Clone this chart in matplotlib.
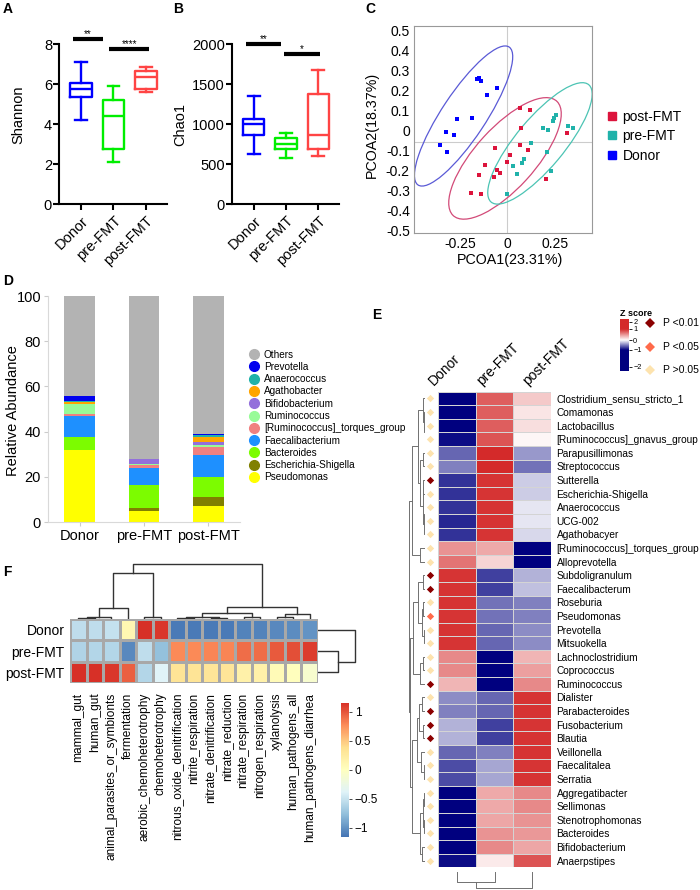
import numpy as np
import matplotlib
matplotlib.use('Agg')
import matplotlib.pyplot as plt
from matplotlib.patches import Ellipse
from matplotlib.colors import LinearSegmentedColormap
from matplotlib.lines import Line2D

plt.rcParams['font.family'] = ['Liberation Sans', 'DejaVu Sans']
plt.rcParams['axes.unicode_minus'] = False

# ---------------- data ----------------
groups = ['Donor', 'pre-FMT', 'post-FMT']
group_colors = ['#0000ff', '#00ee00', '#ff4444']

# whisker low, q1, median, q3, whisker high
shannon_box = [[4.2, 5.37, 5.73, 6.07, 7.12],
               [2.1, 2.75, 4.42, 5.2, 5.9],
               [5.58, 5.77, 6.33, 6.67, 6.87]]
chao1_box = [[620, 862, 996, 1058, 1354],
             [571, 687, 754, 821, 891],
             [600, 687, 862, 1375, 1675]]
# (x from, x to, y, stars)
shannon_sig = [(0.75, 1.69, 8.23, '**'), (1.87, 3.1, 7.77, '****')]
chao1_sig = [(0.75, 1.84, 2000, '**'), (1.94, 3.06, 1875, '*')]

# PCoA
donor_x = [-0.161, -0.150, -0.140, -0.056, -0.105, -0.184, -0.263, -0.325, -0.279, -0.354, -0.316]
donor_y = [0.255, 0.262, 0.247, 0.210, 0.173, 0.058, 0.053, -0.010, -0.023, -0.075, -0.108]
post_x = [0.068, 0.119, 0.070, 0.312, 0.067, -0.067, 0.107, 0.016, 0.0, -0.119, -0.056,
          -0.040, -0.147, -0.068, 0.204, -0.191, -0.139]
post_y = [0.112, 0.100, 0.008, -0.015, -0.077, -0.092, -0.102, -0.127, -0.160, -0.173, -0.198,
          -0.217, -0.223, -0.235, -0.247, -0.317, -0.322]
pre_x = [0.256, 0.247, 0.242, 0.189, 0.212, 0.321, 0.344, 0.123, 0.211, 0.088, 0.077,
         0.032, 0.049, 0.228, 0.0]
pre_y = [0.077, 0.058, 0.045, 0.010, 0.002, 0.020, 0.008, -0.067, -0.110, -0.143, -0.165,
         -0.180, -0.220, -0.203, -0.318]
ell_cx = [-0.23, -0.012, 0.172]          # Donor, post-FMT, pre-FMT
ell_cy = [0.07, -0.142, -0.067]
ell_major = [0.84, 0.79, 0.78]
ell_minor = [0.23, 0.31, 0.25]
ell_angle = [55, 46, 48.5]
ell_colors = ['#5a5ad6', '#d24a78', '#4cc4b4']

# stacked bars (bottom to top)
taxa = ['Pseudomonas', 'Escherichia-Shigella', 'Bacteroides', 'Faecalibacterium',
        '[Ruminococcus]_torques_group', 'Ruminococcus', 'Bifidobacterium', 'Agathobacter',
        'Anaerococcus', 'Prevotella', 'Others']
taxa_colors = ['#ffff00', '#808000', '#7cfc00', '#1e90ff', '#f08080', '#98fb98',
               '#9370db', '#ffa500', '#20b2aa', '#0000ee', '#b3b3b3']
abund_donor = [31.7, 0.3, 5.6, 9.5, 0.8, 4.2, 0.3, 0.8, 0.2, 2.5, 44.1]
abund_pre = [5.0, 1.0, 10.5, 7.5, 1.2, 0.3, 2.2, 0.1, 0.1, 0.1, 72.0]
abund_post = [7.2, 3.7, 9.0, 9.7, 3.4, 1.0, 1.5, 2.2, 0.6, 0.6, 61.1]

# genus heatmap (z score Donor, pre-FMT, post-FMT)
genera = ['Clostridium_sensu_stricto_1', 'Comamonas', 'Lactobacillus', '[Ruminococcus]_gnavus_group',
          'Parapusillimonas', 'Streptococcus', 'Sutterella', 'Escherichia-Shigella', 'Anaerococcus',
          'UCG-002', 'Agathobacyer', '[Ruminococcus]_torques_group', 'Alloprevotella',
          'Subdoligranulum', 'Faecalibacterum', 'Roseburia', 'Pseudomonas', 'Prevotella',
          'Mitsuokella', 'Lachnoclostridium', 'Coprococcus', 'Ruminococcus', 'Dialister',
          'Parabacteroides', 'Fusobacterium', 'Blautia', 'Veillonella', 'Faecalitalea', 'Serratia',
          'Aggregatibacter', 'Sellimonas', 'Stenotrophomonas', 'Bacteroides', 'Bifidobacterium',
          'Anaerpstipes']
z_donor = [-1, -1, -1, -0.95, -0.6, -0.5, -0.8, -0.8, -0.8, -0.85, -0.8, 0.5, 0.65,
           0.95, 0.95, 0.95, 0.95, 0.95, 0.95, 0.55, 0.55, 0.35, -0.45, -0.5, -0.3, -0.3,
           -0.6, -0.7, -0.7, -1, -1, -1, -1, -1, -0.95]
z_pre = [0.75, 0.75, 0.75, 0.8, 1, 1, 0.95, 0.95, 0.95, 0.95, 0.95, 0.4, 0.2,
         -0.75, -0.75, -0.55, -0.55, -0.6, -0.6, -1, -1, -1, -0.6, -0.6, -0.75, -0.75,
         -0.5, -0.35, -0.35, 0.4, 0.4, 0.42, 0.5, 0.55, 0.1]
z_post = [0.25, 0.12, 0.15, 0.04, -0.4, -0.55, -0.2, -0.2, -0.1, -0.1, -0.15, -1, -1,
          -0.3, -0.25, -0.5, -0.5, -0.45, -0.45, 0.35, 0.45, 0.55, 0.95, 0.95, 0.95, 0.95,
          0.95, 0.95, 0.95, 0.55, 0.55, 0.5, 0.48, 0.42, 0.8]
# 2: P<0.01, 1: P<0.05, 0: P>0.05
p_level = [0, 0, 0, 0, 0, 0, 2, 0, 0, 0, 0, 0, 0, 2, 2, 0, 1, 0, 0, 0, 0, 2, 0, 2, 2, 2,
           0, 0, 0, 0, 0, 0, 0, 0, 0]
p_labels = ['P >0.05', 'P <0.05', 'P <0.01']
p_colors = ['#fde3ae', '#ff6a4a', '#8b0000']
row_tree = [[[[0, [1, [2, 3, 0.02], 0.04], 0.1],
              [[4, 5, 0.12], [[6, 7, 0.1], [[8, 9, 0.03], 10, 0.06], 0.15], 0.3], 0.45],
             [11, 12, 0.3], 0.85],
            [[[[13, 14, 0.1], [[15, 16, 0.12], [17, 18, 0.08], 0.2], 0.45],
              [[19, 20, 0.1], 21, 0.3], 0.75],
             [[[[22, 23, 0.2], [24, 25, 0.1], 0.35], [26, [27, 28, 0.05], 0.25], 0.5],
              [[[29, 30, 0.05], [31, 32, 0.05], 0.1], [33, 34, 0.2], 0.3], 0.8], 0.95], 1.0]
col_tree_e = [[0, 1, 0.6], 2, 1.0]

# FAPROTAX heatmap
functions = ['mammal_gut', 'human_gut', 'animal_parasites_or_symbionts', 'fermentation',
             'aerobic_chemoheterotrophy', 'chemoheterotrophy', 'nitrous_oxide_denitrification',
             'nitrite_respiration', 'nitrate_denitrification', 'nitrate_reduction',
             'nitrate_respiration', 'nitrogen_respiration', 'xylanolysis',
             'human_pathogens_all', 'human_pathogens_diarrhea']
f_donor = [-0.55, -0.55, -0.52, 0.1, 1.15, 1.12, -1.12, -1.12, -1.12, -1.12, -1.08, -1.08, -1.05, -1.03, -1.0]
f_pre = [-0.62, -0.6, -0.6, -1.05, -0.55, -0.75, 0.78, 0.78, 0.8, 0.8, 0.9, 0.9, 0.98, 1.02, 1.1]
f_post = [1.15, 1.15, 1.12, 0.95, -0.6, -0.38, 0.34, 0.34, 0.32, 0.32, 0.18, 0.18, 0.07, 0.01, -0.1]
f_col_tree = [[[[[0, 1, 0.02], 2, 0.04], 3, 0.2], [4, 5, 0.04], 0.84],
              [[[[6, 7, 0.01], [8, 9, 0.01], 0.03], [10, 11, 0.04], 0.11],
               [[12, 13, 0.03], 14, 0.1], 0.22], 1.0]
f_row_tree = [0, [1, 2, 0.53], 1.0]

# ---------------- layout helpers ----------------
W, H = 700, 890
fig = plt.figure(figsize=(7, 8.9), dpi=100)


def add_ax(l, t, r, b):
    return fig.add_axes([l / W, 1 - b / H, (r - l) / W, (b - t) / H])


def panel_label(txt, x, y):
    fig.text(x / W, 1 - y / H, txt, fontsize=10, fontweight='bold', ha='left', va='center')


def draw_tree(ax, node, height_on_x, **kw):
    if isinstance(node, int):
        return node + 0.5, 0.0
    left, right, h = node
    p1, h1 = draw_tree(ax, left, height_on_x, **kw)
    p2, h2 = draw_tree(ax, right, height_on_x, **kw)
    ps, hs = [p1, p1, p2, p2], [h1, h, h, h2]
    if height_on_x:
        ax.plot(hs, ps, **kw)
    else:
        ax.plot(ps, hs, **kw)
    return (p1 + p2) / 2, h


# ---------------- A / B box plots ----------------
def box_panel(ax, box, sig, ylim, yticks, ylabel, lab_x, lab_y):
    stats = [dict(whislo=s[0], q1=s[1], med=s[2], q3=s[3], whishi=s[4], fliers=[]) for s in box]
    bp = ax.bxp(stats, positions=[1, 2, 3], widths=0.66, capwidths=0.36, showfliers=False)
    for i, c in enumerate(group_colors):
        bp['boxes'][i].set(color=c, linewidth=1.7)
        bp['medians'][i].set(color=c, linewidth=1.7)
        for k in (2 * i, 2 * i + 1):
            bp['whiskers'][k].set(color=c, linewidth=1.7)
            bp['caps'][k].set(color=c, linewidth=1.7)
    for x0, x1, y, s in sig:
        ax.plot([x0, x1], [y, y], color='black', lw=3, clip_on=False, solid_capstyle='butt')
        ax.text((x0 + x1) / 2, y, s, ha='center', va='bottom', fontsize=7, clip_on=False)
    ax.set_xlim(0.32, 3.65)
    ax.set_ylim(*ylim)
    ax.set_yticks(yticks)
    ax.set_xticks([1, 2, 3])
    ax.set_xticklabels(groups, rotation=45, ha='right', rotation_mode='anchor', fontsize=10.5)
    ax.tick_params(axis='y', labelsize=10.5, width=1.5, length=4, pad=1)
    ax.tick_params(axis='x', width=1.5, length=4, pad=3)
    for sp in ('top', 'right'):
        ax.spines[sp].set_visible(False)
    for sp in ('left', 'bottom'):
        ax.spines[sp].set_linewidth(1.5)
    ax.set_ylabel(ylabel, fontsize=10.5)
    ax.yaxis.set_label_coords(lab_x, lab_y)


axA = add_ax(59, 44, 167, 204)
box_panel(axA, shannon_box, shannon_sig, (0, 8), [0, 2, 4, 6, 8], 'Shannon', -0.31, 0.56)
axB = add_ax(232, 44, 339, 204)
box_panel(axB, chao1_box, chao1_sig, (0, 2000), [0, 500, 1000, 1500, 2000], 'Chao1', -0.42, 0.5)

# ---------------- C PCoA ----------------
axC = add_ax(414, 26, 592, 233)
axC.axhline(-0.058, color='#cccccc', lw=0.8, zorder=0)
axC.axvline(0, color='#cccccc', lw=0.8, zorder=0)
for cx, cy, mj, mn, ang, ec in zip(ell_cx, ell_cy, ell_major, ell_minor, ell_angle, ell_colors):
    axC.add_patch(Ellipse((cx, cy), mj, mn, angle=ang, fill=False, ec=ec, lw=0.9))
axC.scatter(post_x, post_y, marker='s', s=9, color='#dc143c', lw=0, label='post-FMT')
axC.scatter(pre_x, pre_y, marker='s', s=9, color='#20b2aa', lw=0, label='pre-FMT')
axC.scatter(donor_x, donor_y, marker='s', s=9, color='#0000ff', lw=0, label='Donor')
axC.set_xlim(-0.491, 0.446)
axC.set_ylim(-0.515, 0.52)
ct = [0.5, 0.4, 0.3, 0.2, 0.1, 0, -0.1, -0.2, -0.3, -0.4, -0.5]
axC.set_yticks(ct)
axC.set_yticklabels(['0.5', '0.4', '0.3', '0.2', '0.1', '0', '-0.1', '-0.2', '-0.3', '-0.4', '-0.5'])
axC.set_xticks([-0.25, 0, 0.25])
axC.set_xticklabels(['-0.25', '0', '0.25'])
axC.tick_params(labelsize=10, length=0, pad=3)
for sp in axC.spines.values():
    sp.set_color('#999999')
    sp.set_linewidth(0.8)
axC.set_xlabel('PCOA1(23.31%)', fontsize=10.3)
axC.xaxis.set_label_coords(0.54, -0.095)
axC.set_ylabel('PCOA2(18.37%)', fontsize=10.3)
axC.yaxis.set_label_coords(-0.2, 0.52)
c_handles = [Line2D([], [], marker='s', ls='', color=c, markersize=6)
             for c in ['#dc143c', '#20b2aa', '#0000ff']]
fig.legend(c_handles, ['post-FMT', 'pre-FMT', 'Donor'], loc='upper left',
           bbox_to_anchor=(606 / W, 1 - 110 / H), frameon=False, fontsize=10,
           handlelength=0.8, handletextpad=0.4, labelspacing=0.38, borderpad=0, borderaxespad=0)

# ---------------- D stacked bars ----------------
axD = add_ax(48, 296, 240, 522)
bottoms = np.zeros(3)
for name, col, d, p, q in zip(taxa, taxa_colors, abund_donor, abund_pre, abund_post):
    vals = np.array([d, p, q])
    axD.bar([1, 2, 3], vals, bottom=bottoms, width=0.48, color=col, lw=0)
    bottoms = bottoms + vals
axD.set_xlim(0.51, 3.49)
axD.set_ylim(0, 100)
axD.set_yticks([0, 20, 40, 60, 80, 100])
axD.set_xticks([1, 2, 3])
axD.set_xticklabels(groups)
axD.tick_params(labelsize=10.5, color='#cccccc', length=3, pad=2)
for sp in ('top', 'right'):
    axD.spines[sp].set_visible(False)
for sp in ('left', 'bottom'):
    axD.spines[sp].set_color('#d9d9d9')
axD.set_ylabel('Relative Abundance', fontsize=10.5)
axD.yaxis.set_label_coords(-0.146, 0.495)
d_handles = [Line2D([], [], marker='o', ls='', color=c, markersize=7) for c in taxa_colors[::-1]]
fig.legend(d_handles, taxa[::-1], loc='upper left', bbox_to_anchor=(249 / W, 1 - 349.5 / H),
           frameon=False, fontsize=7.2, handlelength=1.0, handletextpad=0.5,
           labelspacing=0.23, borderpad=0, borderaxespad=0)

# ---------------- E genus heatmap ----------------
cmap_z = LinearSegmentedColormap.from_list('z', ['#00007f', '#ffffff', '#d42a2a'])
n_rows = len(genera)
axE = add_ax(438, 391.7, 551, 867.3)
zmat = np.array([z_donor, z_pre, z_post]).T
axE.pcolormesh(zmat, cmap=cmap_z, vmin=-1, vmax=1, edgecolors='#d4d4d4', linewidth=0.4)
axE.set_xlim(0, 3)
axE.set_ylim(n_rows, 0)
axE.set_xticks([])
axE.yaxis.tick_right()
axE.set_yticks(np.arange(n_rows) + 0.5)
axE.set_yticklabels(genera, fontsize=7.3)
axE.tick_params(axis='y', length=0, pad=4)
for sp in axE.spines.values():
    sp.set_visible(False)
for lvl in range(3):
    rows = [i + 0.5 for i, v in enumerate(p_level) if v == lvl]
    axE.scatter([-0.21] * len(rows), rows, marker='D', s=14, color=p_colors[lvl], lw=0, clip_on=False)
for i, (g, xp) in enumerate(zip(groups, [434, 482, 528])):
    fig.text(xp / W, 1 - 386 / H, g, rotation=45, ha='left', va='baseline',
             rotation_mode='anchor', fontsize=10)

axEr = add_ax(405, 391.7, 425, 867.3)
draw_tree(axEr, row_tree, True, color='#707070', lw=0.7)
axEr.set_xlim(1.27, 0)
axEr.set_ylim(n_rows, 0)
axEr.axis('off')

axEc = add_ax(438, 872, 551, 889)
draw_tree(axEc, col_tree_e, False, color='#707070', lw=0.7)
axEc.set_xlim(0, 3)
axEc.set_ylim(1.06, 0)
axEc.axis('off')

# E legend
fig.text(620 / W, 1 - 313 / H, 'Z score', fontsize=6.5, fontweight='bold', ha='left', va='center')
axEcb = add_ax(620, 319, 629, 371)
cb_pos = [0.077, 0.404, 0.596, 0.808, 0.95]
cb_vals = [-2, -1, 0, 1, 2]
frac = np.linspace(0, 1, 200)
grad = np.interp(frac, cb_pos, cb_vals).reshape(-1, 1)
axEcb.imshow(grad, cmap=cmap_z, vmin=-1, vmax=1, aspect='auto', origin='lower', extent=(0, 1, 0, 1))
axEcb.set_xticks([])
axEcb.yaxis.tick_right()
axEcb.set_yticks(cb_pos)
axEcb.set_yticklabels(['\u22122', '\u22121', '0', '1', '2'], fontsize=5.3)
axEcb.tick_params(axis='y', length=2, width=0.6, pad=1)
for sp in axEcb.spines.values():
    sp.set_visible(False)
for lvl, yp in zip([2, 1, 0], [323, 347, 370]):
    fig.lines.append(Line2D([650 / W], [1 - yp / H], marker='D', ls='', markersize=5,
                            color=p_colors[lvl], mew=0, transform=fig.transFigure))
    fig.text(663 / W, 1 - yp / H, p_labels[lvl], fontsize=7.5, ha='left', va='center')

# ---------------- F function heatmap ----------------
cmap_f = LinearSegmentedColormap.from_list(
    'f', ['#4575b4', '#91bfdb', '#e0f3f8', '#ffffbf', '#fee090', '#fc8d59', '#d73027'])
axF = add_ax(70, 619, 318, 683)
fmat = np.array([f_donor, f_pre, f_post])
mesh = axF.pcolormesh(fmat, cmap=cmap_f, vmin=-1.155, vmax=1.155, edgecolors='#a8a8a8', linewidth=0.9)
axF.set_xlim(0, len(functions))
axF.set_ylim(3, 0)
axF.set_yticks([0.5, 1.5, 2.5])
axF.set_yticklabels(groups, fontsize=10)
axF.set_xticks(np.arange(len(functions)) + 0.5)
axF.set_xticklabels(functions, rotation=90, fontsize=8.6)
axF.tick_params(length=0)
axF.tick_params(axis='x', pad=7)
axF.tick_params(axis='y', pad=4)
for sp in axF.spines.values():
    sp.set_visible(False)

axFc = add_ax(70, 562, 318, 619)
draw_tree(axFc, f_col_tree, False, color='#333333', lw=1.0)
axFc.set_xlim(0, len(functions))
axFc.set_ylim(0, 1.04)
axFc.axis('off')

axFr = add_ax(318, 619, 358, 683)
draw_tree(axFr, f_row_tree, True, color='#333333', lw=1.0)
axFr.set_xlim(0, 1.08)
axFr.set_ylim(3, 0)
axFr.axis('off')

axFcb = add_ax(341, 702.7, 349, 836.7)
cbF = fig.colorbar(mesh, cax=axFcb)
cbF.set_ticks([1, 0.5, 0, -0.5, -1])
cbF.set_ticklabels(['1', '0.5', '0', '\u22120.5', '\u22121'])
cbF.outline.set_visible(False)
axFcb.tick_params(labelsize=8.5, length=2, width=0.5, pad=2)

# panel letters
panel_label('A', 3, 9)
panel_label('B', 173, 9)
panel_label('C', 365, 9)
panel_label('D', 3, 281)
panel_label('E', 372, 315)
panel_label('F', 3, 572)

fig.savefig('out.png', dpi=100)
